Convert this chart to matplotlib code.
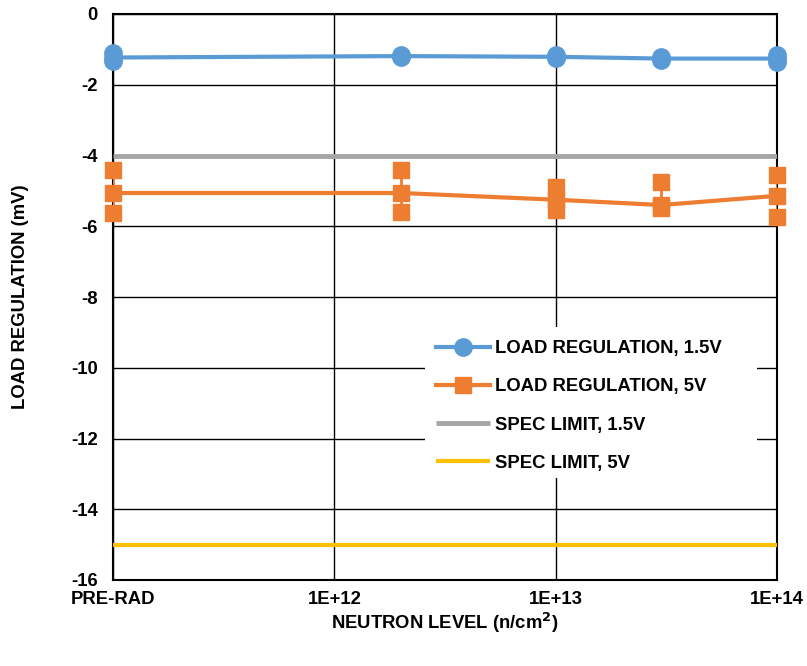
import numpy as np
import matplotlib
matplotlib.use("Agg")
import matplotlib.pyplot as plt
from matplotlib.ticker import FixedLocator, NullLocator
from matplotlib.patches import Rectangle

plt.rcParams["font.family"] = ["Liberation Sans", "DejaVu Sans"]
plt.rcParams["font.weight"] = "bold"

# --- Données (PRE-RAD placé à 1E+11 sur l'axe log) ---
neutron = [1e11, 2e12, 1e13, 3e13, 1e14]
tick_pos = [1e11, 1e12, 1e13, 1e14]
tick_labels = ["PRE-RAD", "1E+12", "1E+13", "1E+14"]

# charge 1.5V : moyenne / min / max
reg15_mean = [-1.23, -1.19, -1.21, -1.26, -1.26]
reg15_min = [-1.33, -1.22, -1.25, -1.29, -1.36]
reg15_max = [-1.10, -1.15, -1.15, -1.22, -1.15]

# charge 5V : moyenne / min / max
reg5_mean = [-5.06, -5.06, -5.25, -5.40, -5.14]
reg5_min = [-5.62, -5.60, -5.55, -5.48, -5.73]
reg5_max = [-4.41, -4.41, -4.90, -4.75, -4.55]

spec15 = -4
spec5 = -15

BLUE = "#5B9BD5"
ORANGE = "#ED7D31"
GRAY = "#A5A5A5"
YELLOW = "#FFC000"
FS = 13.3

fig = plt.figure(figsize=(8.07, 6.66), dpi=100)
ax = fig.add_axes([113 / 807, 86 / 666, 664 / 807, 566 / 666])
ax.set_xscale("log")

x = np.array(neutron)

# lignes de limite
ax.plot([1e11, 1e14], [spec15, spec15], color=GRAY, lw=3.5, zorder=3,
        label="SPEC LIMIT, 1.5V", solid_capstyle="butt")
ax.plot([1e11, 1e14], [spec5, spec5], color=YELLOW, lw=3, zorder=3,
        label="SPEC LIMIT, 5V", solid_capstyle="butt")

# 1.5V : barres min/max + marqueurs
m15 = np.array(reg15_mean)
ax.errorbar(x, m15, yerr=[m15 - np.array(reg15_min), np.array(reg15_max) - m15],
            fmt="none", ecolor=BLUE, elinewidth=2, capsize=0, zorder=4)
ax.plot(x, reg15_min, "o", color=BLUE, ms=12.5, zorder=5, clip_on=False)
ax.plot(x, reg15_max, "o", color=BLUE, ms=12.5, zorder=5, clip_on=False)
ax.plot(x, m15, "-o", color=BLUE, lw=3, ms=12.5, zorder=5, clip_on=False,
        label="LOAD REGULATION, 1.5V")

# 5V
m5 = np.array(reg5_mean)
ax.errorbar(x, m5, yerr=[m5 - np.array(reg5_min), np.array(reg5_max) - m5],
            fmt="none", ecolor=ORANGE, elinewidth=2, capsize=0, zorder=4)
ax.plot(x, reg5_min, "s", color=ORANGE, ms=11.5, zorder=5, clip_on=False)
ax.plot(x, reg5_max, "s", color=ORANGE, ms=11.5, zorder=5, clip_on=False)
ax.plot(x, m5, "-s", color=ORANGE, lw=3, ms=11.5, zorder=5, clip_on=False,
        label="LOAD REGULATION, 5V")

ax.set_xlim(1e11, 1e14)
ax.set_ylim(-16, 0)
ax.xaxis.set_major_locator(FixedLocator(tick_pos))
ax.xaxis.set_minor_locator(NullLocator())
ax.set_xticklabels(tick_labels)
ax.set_yticks(np.arange(-16, 1, 2))
ax.set_yticklabels([str(v) for v in range(-16, 1, 2)])
ax.tick_params(axis="both", length=0, labelsize=FS)
ax.tick_params(axis="y", pad=11)
ax.tick_params(axis="x", pad=8)
for lab in ax.get_xticklabels() + ax.get_yticklabels():
    lab.set_fontweight("bold")

ax.grid(True, which="major", color="black", lw=1, zorder=1)
ax.set_axisbelow(True)
for sp in ax.spines.values():
    sp.set_color("black")
    sp.set_linewidth(1.5)

ax.set_ylabel("LOAD REGULATION (mV)", fontsize=FS, fontweight="bold")
ax.yaxis.set_label_coords(-(113 - 29) / 664, 0.5)
ax.set_xlabel("NEUTRON LEVEL (n/cm$^\\mathbf{2}$)", fontsize=FS, fontweight="bold")
ax.xaxis.set_label_coords(0.5, -(611 - 580) / 566)

# fond blanc de la légende (cache la grille)
ax.add_patch(Rectangle(((425 - 113) / 664, (580 - 478) / 566), (757 - 425) / 664,
                       (478 - 327) / 566, transform=ax.transAxes,
                       facecolor="white", edgecolor="none", zorder=2))

handles, labels = ax.get_legend_handles_labels()
order = ["LOAD REGULATION, 1.5V", "LOAD REGULATION, 5V", "SPEC LIMIT, 1.5V", "SPEC LIMIT, 5V"]
hmap = dict(zip(labels, handles))
leg = ax.legend([hmap[k] for k in order], order, loc="upper left",
                bbox_to_anchor=((425 - 113) / 664, (580 - 329) / 566), frameon=False,
                handlelength=2.9, labelspacing=1.15, handletextpad=0.27,
                borderpad=0.6, borderaxespad=0,
                prop={"weight": "bold", "size": FS})
leg.set_zorder(10)

fig.savefig("out.png", dpi=100)
